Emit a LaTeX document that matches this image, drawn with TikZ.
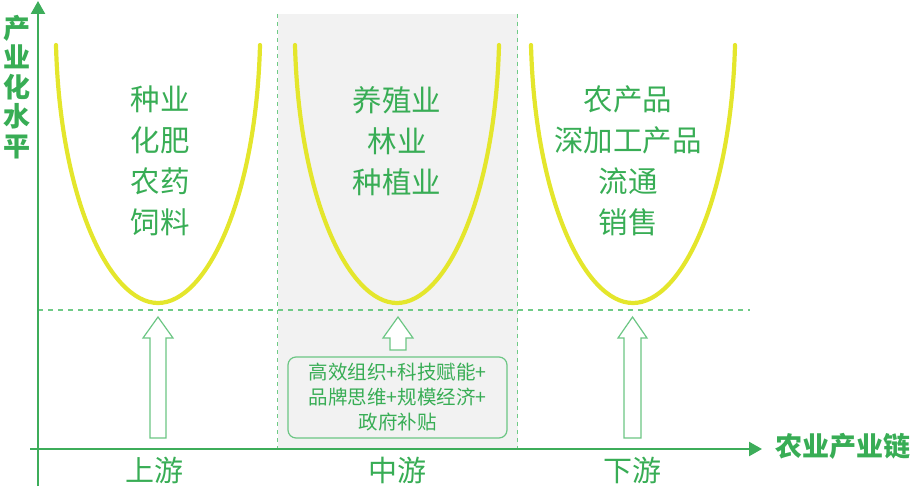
\documentclass[tikz,border=0pt]{standalone}
\usepackage{fontspec}
\setmainfont{Noto Sans CJK SC}
\usetikzlibrary{arrows.meta}
\definecolor{txtgreen}{HTML}{38AD55}
\definecolor{axisgreen}{HTML}{3DAD5A}
\definecolor{lightgreen}{HTML}{6FCB86}
\definecolor{arrgreen}{HTML}{6CC684}
\definecolor{curveyellow}{HTML}{E4E62C}
\definecolor{bandgray}{HTML}{F2F2F2}
\tikzset{
  axisline/.style={draw=axisgreen, line width=2.4pt, -{Triangle[length=13pt,width=14pt]}},
  guide/.style={draw=lightgreen, line width=1.5pt, dash pattern=on 5pt off 5pt},
  vguide/.style={draw=lightgreen, line width=1.7pt, dash pattern=on 4pt off 4pt},
  uline/.style={draw=curveyellow, line width=4.2pt, line cap=round},
  hollow/.style={draw=arrgreen, line width=1.2pt, fill=white},
  bigtxt/.style={text=txtgreen, align=center, font=\fontsize{29.5}{41}\selectfont},
  axlabel/.style={text=txtgreen, font=\bfseries\fontsize{27}{29.5}\selectfont, align=center},
  boxtxt/.style={draw=arrgreen, line width=1.2pt, rounded corners=8pt, fill=bandgray, text=txtgreen, align=center, font=\fontsize{19.5}{25}\selectfont, minimum width=219pt, minimum height=81pt, inner sep=0pt},
  lowtxt/.style={text=txtgreen, font=\fontsize{29}{30}\selectfont}
}
\begin{document}
\begin{tikzpicture}[x=1pt,y=-1pt]
\useasboundingbox (0,0) rectangle (920,492);
% shaded middle band
\fill[bandgray] (277.5,14) rectangle (517.5,449);
\draw[vguide] (277.5,14) -- (277.5,449);
\draw[vguide] (517.5,14) -- (517.5,449);
% horizontal guide
\draw[guide] (38,310) -- (750,310);
% axes
\coordinate (ybot) at (38,486);
\coordinate (ytop) at (38,1);
\coordinate (xleft) at (30,449);
\coordinate (xright) at (762,449);
\draw[axisline] (ybot) -- (ytop);
\draw[axisline] (xleft) -- (xright);
\node[axlabel] (ylab) at (17,87) {产\\业\\化\\水\\平};
\node[axlabel, anchor=west] (xlab) at (772,446) {农业产业链};
% U curves
\foreach \c in {158,397,633}{
  \draw[uline] (\c-102,45) .. controls (\c-98,200) and (\c-48,303) .. (\c,303)
                .. controls (\c+48,303) and (\c+98,200) .. (\c+102,45);
}
% texts in curves
\node[bigtxt] (t1) at (160,161) {种业\\化肥\\农药\\饲料};
\node[bigtxt] (t2) at (397,141) {养殖业\\林业\\种植业};
\node[bigtxt] (t3) at (628,161) {农产品\\深加工产品\\流通\\销售};
% hollow arrows
\draw[hollow] (158,317) -- (173,338) -- (166,338) -- (166,438) -- (150,438) -- (150,338) -- (143,338) -- cycle;
\draw[hollow] (632.5,317) -- (647,338) -- (641,338) -- (641,438) -- (624,438) -- (624,338) -- (618,338) -- cycle;
\draw[hollow] (398,317) -- (413,338) -- (406,338) -- (406,350) -- (390,350) -- (390,338) -- (383,338) -- cycle;
% box
\node[boxtxt] (box) at (397.5,397.5) {高效组织+科技赋能+\\品牌思维+规模经济+\\政府补贴};
% bottom labels
\node[lowtxt] (up) at (154,470) {上游};
\node[lowtxt] (mid) at (397,470) {中游};
\node[lowtxt] (down) at (632,470) {下游};
\end{tikzpicture}
\end{document}
